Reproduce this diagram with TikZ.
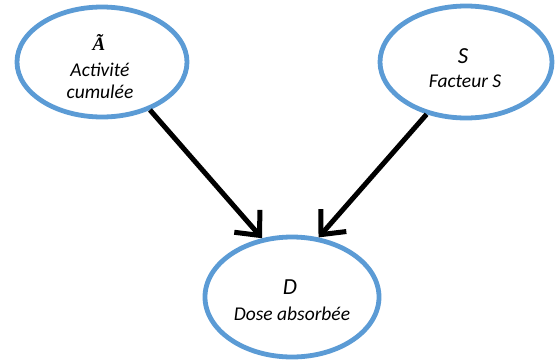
\documentclass[tikz,border=0pt]{standalone}
\usepackage{fontspec}
\setmainfont{Carlito}
\newfontfamily\symserif{Liberation Serif}
\usetikzlibrary{shapes.geometric,arrows.meta}
\definecolor{obblue}{RGB}{91,155,213}
\tikzset{
  bubble/.style={ellipse, draw=obblue, line width=4.8pt, fill=white, inner sep=0pt},
  lbl/.style={anchor=base, inner sep=0pt, font=\fontsize{19.5}{21}\selectfont\itshape},
  sym/.style={anchor=base, inner sep=0pt, font=\fontsize{23}{25}\selectfont\itshape},
  symtil/.style={anchor=base, inner sep=0pt, font=\symserif\fontsize{19}{21}\selectfont\bfseries\itshape},
  link/.style={line width=5pt, -{Straight Barb[length=19pt,width=34pt,line width=5pt]}}
}
\begin{document}
\begin{tikzpicture}[x=1pt,y=-1pt]
\useasboundingbox (0,0) rectangle (556,362);
\node[bubble, minimum width=170pt, minimum height=110pt] (a) at (102,62) {};
\node[bubble, minimum width=172pt, minimum height=112pt] (s) at (466,62) {};
\node[bubble, minimum width=174pt, minimum height=120pt] (d) at (292,297) {};
\node[symtil] (atil) at (99,50) {Ã};
\node[lbl] (a1) at (100,76) {Activité};
\node[lbl] (a2) at (100,98) {cumulée};
\node[sym] (st) at (463,63) {S};
\node[lbl] (s1) at (465,87) {Facteur S};
\node[sym] (dt) at (290,294) {D};
\node[lbl] (d1) at (292,320) {Dose absorbée};
\draw[link] (a.-45) -- (d.117);
\draw[link] (s.-127) -- (d.66);
\end{tikzpicture}
\end{document}
